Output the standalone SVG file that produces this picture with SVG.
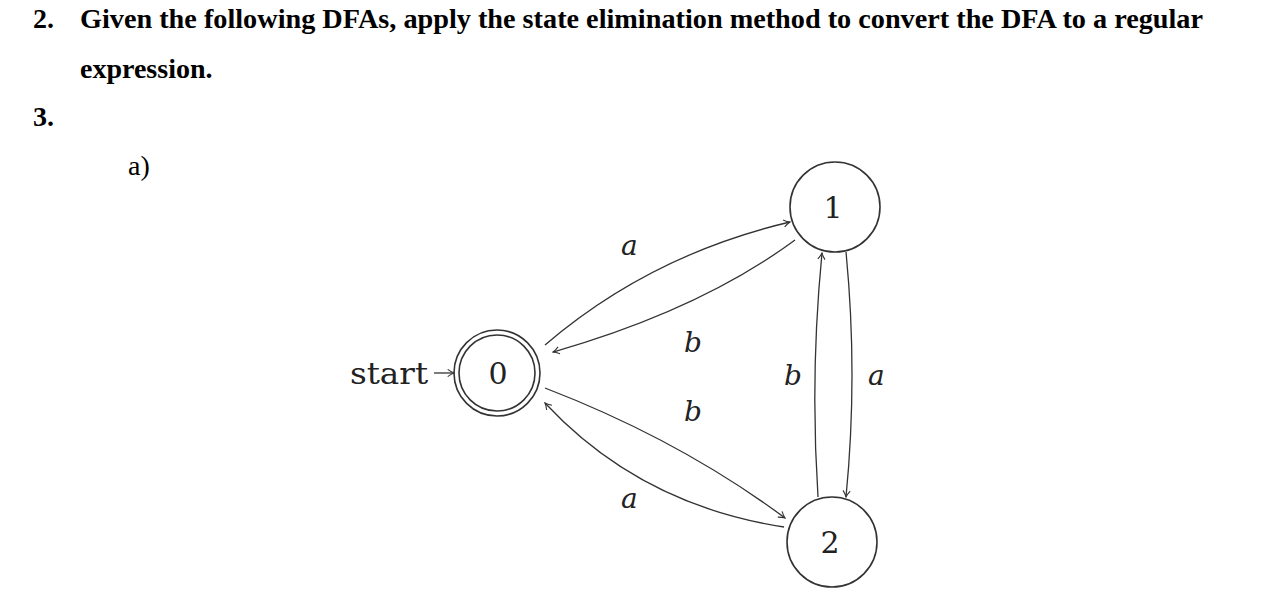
<svg xmlns="http://www.w3.org/2000/svg" width="1280" height="615" viewBox="0 0 1280 615">
<style>
.h{font-family:"Liberation Serif",serif;font-size:28px;font-weight:bold;fill:#000}
.n{font-family:"Liberation Serif",serif;font-size:28px;fill:#000}
.lab{font-family:"DejaVu Serif","Liberation Serif",serif;font-style:italic;font-size:28px;fill:#222}
.num{font-family:"DejaVu Serif","Liberation Serif",serif;font-size:30px;fill:#222}
.st{fill:none;stroke:#333;stroke-width:1.6}
.e{fill:none;stroke:#333;stroke-width:1.3;marker-end:url(#ah)}
</style>
<defs>
<marker id="ah" viewBox="0 0 10 10" refX="9" refY="5" markerWidth="9" markerHeight="9" orient="auto" markerUnits="userSpaceOnUse">
<path d="M2,1 Q6,4 9,5 Q6,6 2,9" fill="none" stroke="#333" stroke-width="1.2"/>
</marker>
</defs>
<rect width="1280" height="615" fill="#fff"/>
<text class="h" x="33" y="28">2.</text>
<text class="h" x="80" y="28" textLength="1123" lengthAdjust="spacingAndGlyphs">Given the following DFAs, apply the state elimination method to convert the DFA to a regular</text>
<text class="h" x="80" y="78">expression.</text>
<text class="h" x="33" y="126">3.</text>
<text class="n" x="128" y="175">a)</text>
<g id="node0"><circle class="st" cx="497" cy="373" r="43"/><circle class="st" cx="497" cy="373" r="38"/><text class="num" x="498" y="384" text-anchor="middle">0</text></g>
<g id="node1"><circle class="st" cx="835" cy="207" r="45"/><text class="num" x="833" y="218" text-anchor="middle">1</text></g>
<g id="node2"><circle class="st" cx="832" cy="542" r="45"/><text class="num" x="830" y="553" text-anchor="middle">2</text></g>
<g id="start"><text class="num" x="350" y="384" textLength="78" lengthAdjust="spacingAndGlyphs">start</text><path class="e" d="M434,373 L454,373"/></g>
<g id="connectors">
<path class="e" d="M545,345 Q650,255 790,222"/>
<path class="e" d="M795,240 Q700,310 553,352"/>
<path class="e" d="M545,388 Q680,440 785,518"/>
<path class="e" d="M784,527 Q640,505 545,403"/>
<path class="e" d="M818,497 Q810,375 822,253"/>
<path class="e" d="M846,252 Q858,375 846,497"/>
<text class="lab" x="621" y="255">a</text>
<text class="lab" x="684" y="352">b</text>
<text class="lab" x="684" y="421">b</text>
<text class="lab" x="621" y="508">a</text>
<text class="lab" x="784" y="385">b</text>
<text class="lab" x="868" y="385">a</text>
</g>
</svg>
